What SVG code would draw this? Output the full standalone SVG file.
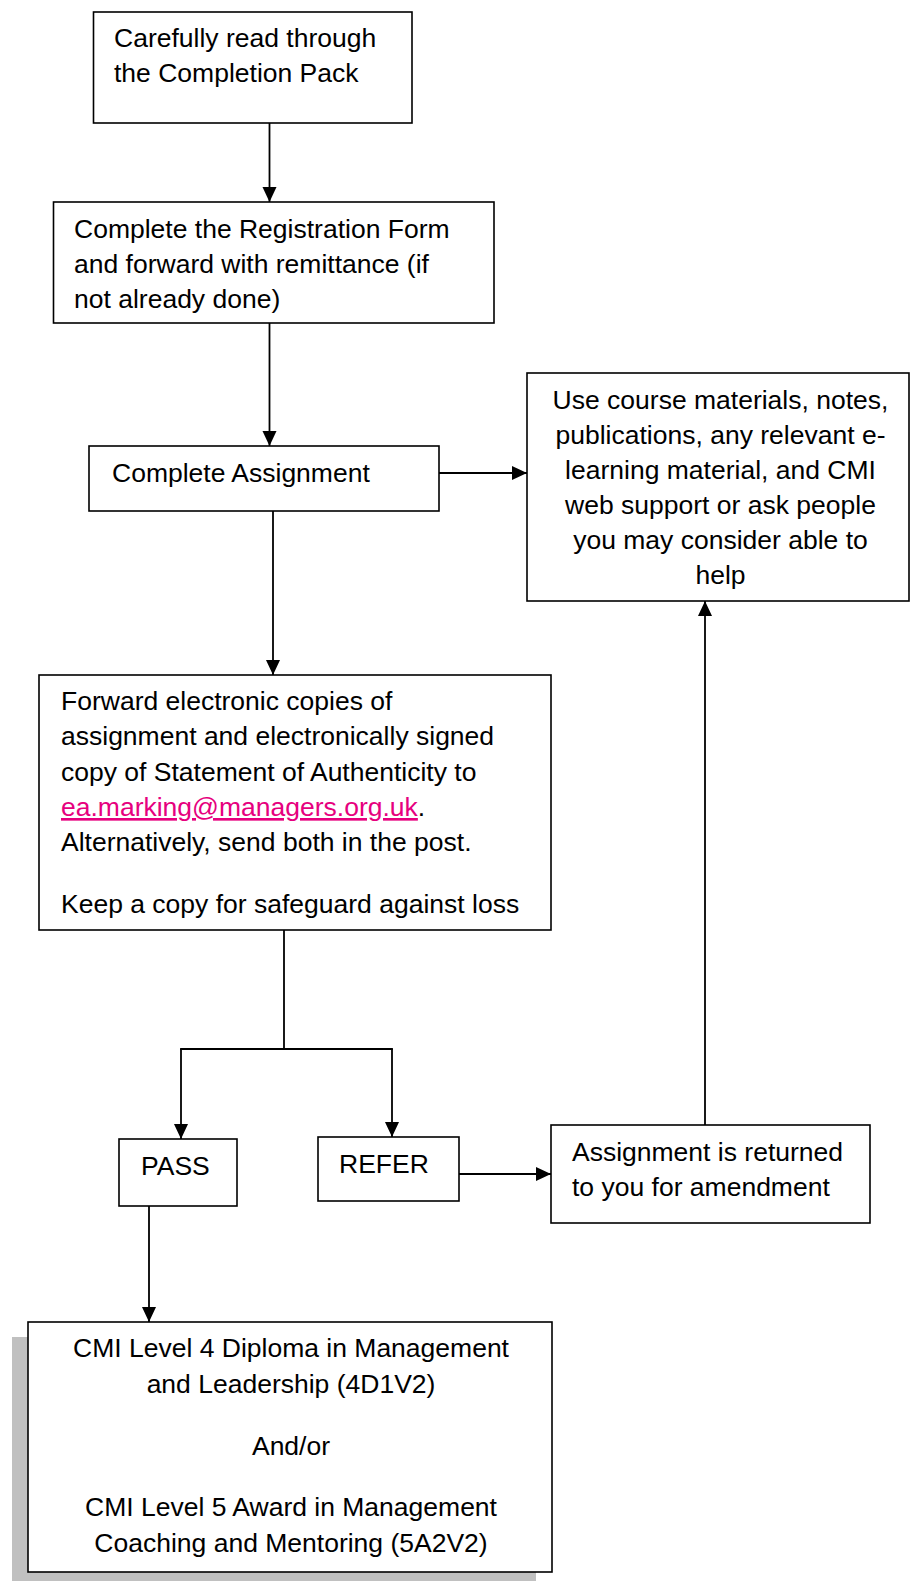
<svg xmlns="http://www.w3.org/2000/svg" width="910" height="1581" viewBox="0 0 910 1581">
<style>
  .box { fill: #ffffff; stroke: #000000; stroke-width: 1.6; }
  .shadow { fill: #c0c0c0; stroke: none; }
  .t { font-family: "Liberation Sans", Arial, sans-serif; font-size: 26.5px; fill: #000000; }
  .c { text-anchor: middle; }
  .link { fill: #e6007e; }
  .con { fill: none; stroke: #000000; stroke-width: 1.8; }
</style>
<defs>
  <marker id="arrow" markerUnits="userSpaceOnUse" markerWidth="16" markerHeight="15" refX="15" refY="7" orient="auto">
    <path d="M0,0 L15,7 L0,14 z" fill="#000000"/>
  </marker>
</defs>
<rect width="910" height="1581" fill="#ffffff"/>

<g id="connectors">
  <line class="con" x1="269.5" y1="123" x2="269.5" y2="202" marker-end="url(#arrow)"/>
  <line class="con" x1="269.5" y1="323" x2="269.5" y2="446" marker-end="url(#arrow)"/>
  <line class="con" x1="439" y1="473" x2="527" y2="473" marker-end="url(#arrow)"/>
  <line class="con" x1="273" y1="511" x2="273" y2="675" marker-end="url(#arrow)"/>
  <line class="con" x1="284" y1="930" x2="284" y2="1049"/>
  <line class="con" x1="180.1" y1="1049" x2="392.9" y2="1049"/>
  <line class="con" x1="181" y1="1049" x2="181" y2="1139" marker-end="url(#arrow)"/>
  <line class="con" x1="392" y1="1049" x2="392" y2="1137" marker-end="url(#arrow)"/>
  <line class="con" x1="459" y1="1174" x2="551" y2="1174" marker-end="url(#arrow)"/>
  <line class="con" x1="705" y1="1125" x2="705" y2="601" marker-end="url(#arrow)"/>
  <line class="con" x1="149" y1="1206" x2="149" y2="1322" marker-end="url(#arrow)"/>
</g>

<g id="node-read">
  <rect class="box" x="93.5" y="12" width="318.5" height="111"/>
  <text class="t" x="114" y="47">Carefully read through</text>
  <text class="t" x="114" y="82">the Completion Pack</text>
</g>

<g id="node-register">
  <rect class="box" x="53.5" y="202" width="440.5" height="121"/>
  <text class="t" x="74" y="238">Complete the Registration Form</text>
  <text class="t" x="74" y="273">and forward with remittance (if</text>
  <text class="t" x="74" y="308">not already done)</text>
</g>

<g id="node-assignment">
  <rect class="box" x="89" y="446" width="350" height="65"/>
  <text class="t" x="112" y="482">Complete Assignment</text>
</g>

<g id="node-resources">
  <rect class="box" x="527" y="373" width="382" height="228"/>
  <text class="t c" x="720.5" y="409">Use course materials, notes,</text>
  <text class="t c" x="720.5" y="444">publications, any relevant e-</text>
  <text class="t c" x="720.5" y="479">learning material, and CMI</text>
  <text class="t c" x="720.5" y="514">web support or ask people</text>
  <text class="t c" x="720.5" y="549">you may consider able to</text>
  <text class="t c" x="720.5" y="584">help</text>
</g>

<g id="node-forward">
  <rect class="box" x="39" y="675" width="512" height="255"/>
  <text class="t" x="61" y="710">Forward electronic copies of</text>
  <text class="t" x="61" y="745">assignment and electronically signed</text>
  <text class="t" x="61" y="781">copy of Statement of Authenticity to</text>
  <text class="t" x="61" y="816"><tspan class="link" text-decoration="underline">ea.marking@managers.org.uk</tspan>.</text>
  <text class="t" x="61" y="851">Alternatively, send both in the post.</text>
  <text class="t" x="61" y="913">Keep a copy for safeguard against loss</text>
</g>

<g id="node-pass">
  <rect class="box" x="119" y="1139" width="118" height="67"/>
  <text class="t" x="141" y="1175">PASS</text>
</g>

<g id="node-refer">
  <rect class="box" x="318" y="1137" width="141" height="64"/>
  <text class="t" x="339" y="1173">REFER</text>
</g>

<g id="node-returned">
  <rect class="box" x="551" y="1125" width="319" height="98"/>
  <text class="t" x="572" y="1161">Assignment is returned</text>
  <text class="t" x="572" y="1196">to you for amendment</text>
</g>

<g id="node-award">
  <rect class="shadow" x="12" y="1337" width="524" height="250"/>
  <rect class="box" x="28" y="1322" width="524" height="250"/>
  <text class="t c" x="291" y="1357">CMI Level 4 Diploma in Management</text>
  <text class="t c" x="291" y="1393">and Leadership (4D1V2)</text>
  <text class="t c" x="291" y="1455">And/or</text>
  <text class="t c" x="291" y="1516">CMI Level 5 Award in Management</text>
  <text class="t c" x="291" y="1552">Coaching and Mentoring (5A2V2)</text>
</g>
</svg>
